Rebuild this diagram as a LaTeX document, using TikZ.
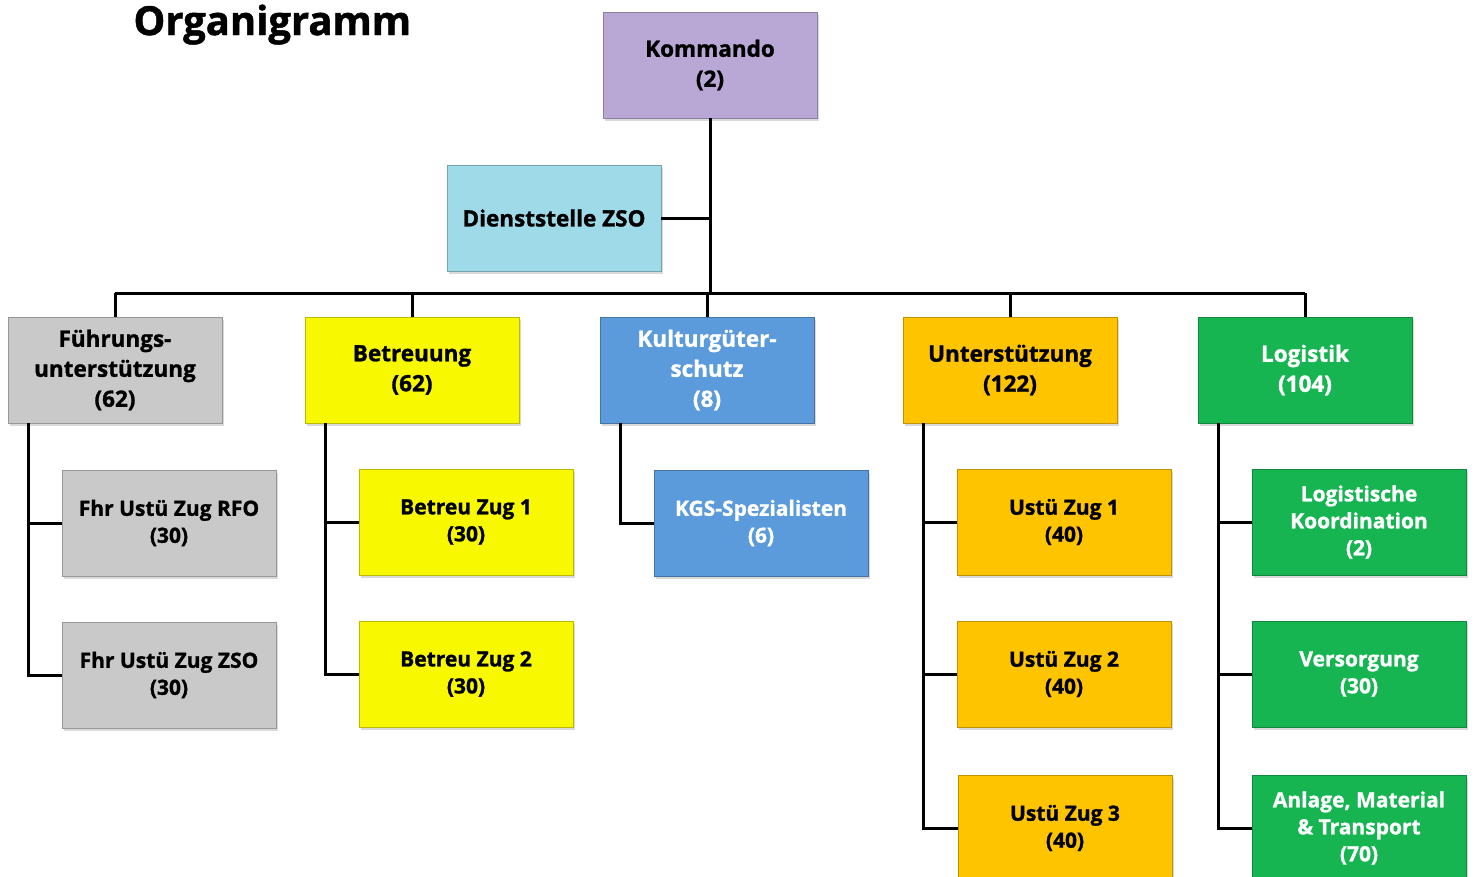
\documentclass[tikz,border=0pt]{standalone}
\usepackage{fontspec}
\setmainfont{Open Sans}[BoldFeatures={FakeBold=1.2}]
\usetikzlibrary{shadows}
\definecolor{kdocol}{HTML}{B9A8D6}
\definecolor{zsocol}{HTML}{9FDAE8}
\definecolor{fucol}{HTML}{C9C9C9}
\definecolor{becol}{HTML}{F8F800}
\definecolor{kgscol}{HTML}{5B9BDB}
\definecolor{uncol}{HTML}{FFC400}
\definecolor{locol}{HTML}{17B552}
\begin{document}
\begin{tikzpicture}[x=1pt,y=-1pt,
  box/.style={draw=#1!75!black,fill=#1,line width=0.8pt,minimum width=214pt,minimum height=106pt,
    align=center,inner sep=2pt,font=\bfseries\fontsize{22.5}{30}\selectfont,
    drop shadow={shadow xshift=2pt,shadow yshift=-3pt,opacity=0.3}},
  subbox/.style={box=#1,font=\bfseries\fontsize{21}{27}\selectfont},
  line/.style={line width=3pt}]
\useasboundingbox (0,0) rectangle (1475,876);
\node[anchor=base west,font=\bfseries\fontsize{40}{40}\selectfont] (titel) at (130,35) {Organigramm};
% oberste Ebene
\node[box=kdocol] (kdo) at (710,65) {Kommando\\(2)};
\node[box=zsocol] (zso) at (554,218) {Dienststelle ZSO};
\coordinate (bar) at (710,293);
% Abteilungen
\node[box=fucol] (fu) at (115,370) {Führungs-\\unterstützung\\(62)};
\node[box=becol] (be) at (412,370) {Betreuung\\(62)};
\node[box=kgscol,text=white] (kgs) at (707,370) {Kulturgüter-\\schutz\\(8)};
\node[box=uncol] (un) at (1010,370) {Unterstützung\\(122)};
\node[box=locol,text=white] (lo) at (1305,370) {Logistik\\(104)};
% Züge
\node[subbox=fucol] (fu1) at (169,523) {Fhr Ustü Zug RFO\\(30)};
\node[subbox=fucol] (fu2) at (169,675) {Fhr Ustü Zug ZSO\\(30)};
\node[subbox=becol] (be1) at (466,522) {Betreu Zug 1\\(30)};
\node[subbox=becol] (be2) at (466,674) {Betreu Zug 2\\(30)};
\node[subbox=kgscol,text=white] (kgs1) at (761,523) {KGS-Spezialisten\\(6)};
\node[subbox=uncol] (un1) at (1064,522) {Ustü Zug 1\\(40)};
\node[subbox=uncol] (un2) at (1064,674) {Ustü Zug 2\\(40)};
\node[subbox=uncol] (un3) at (1065,828) {Ustü Zug 3\\(40)};
\node[subbox=locol,text=white] (lo1) at (1359,522) {Logistische\\Koordination\\(2)};
\node[subbox=locol,text=white] (lo2) at (1359,674) {Versorgung\\(30)};
\node[subbox=locol,text=white] (lo3) at (1359,828) {Anlage, Material\\\& Transport\\(70)};
% Verbindungen
\draw[line] (kdo.south) -- (bar);
\draw[line] (zso.east) -- (zso.east -| kdo.south);
\draw[line] (fu.north |- bar) -- (lo.north |- bar);
\foreach \n in {fu,be,kgs,un,lo}
  \draw[line] (\n.north) -- (\n.north |- bar);
\foreach \p/\c in {fu/fu1,fu/fu2,be/be1,be/be2,kgs/kgs1,un/un1,un/un2,un/un3,lo/lo1,lo/lo2,lo/lo3}
  \draw[line] ([xshift=21pt]\p.south west) |- (\c.west);
\end{tikzpicture}
\end{document}
